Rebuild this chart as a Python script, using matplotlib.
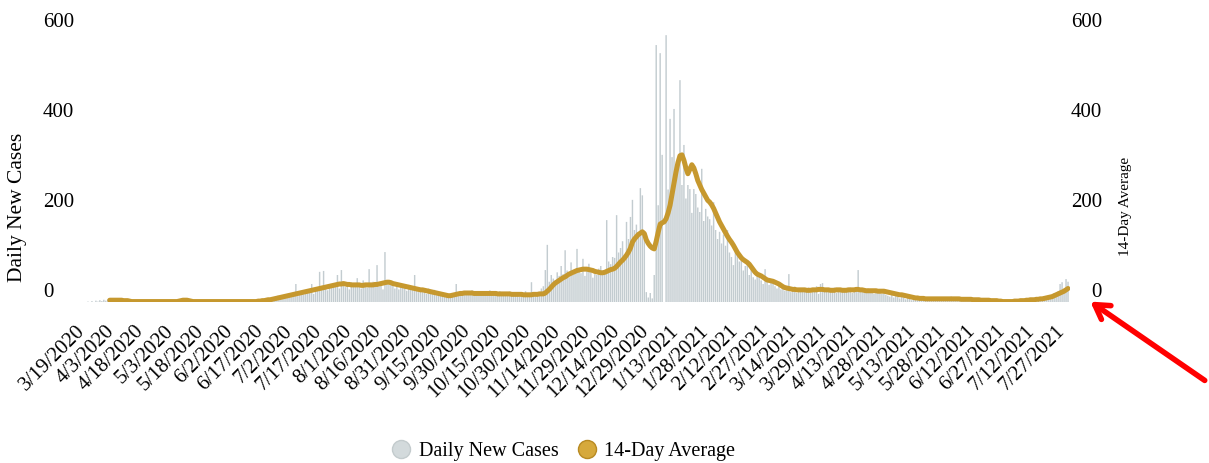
import numpy as np
import matplotlib
matplotlib.use('Agg')
import matplotlib.pyplot as plt
from matplotlib.lines import Line2D
from matplotlib.transforms import ScaledTranslation

plt.rcParams['font.family'] = ['Liberation Serif', 'DejaVu Serif']

# ---------------- data ----------------
tick_labels = ['3/19/2020', '4/3/2020', '4/18/2020', '5/3/2020', '5/18/2020', '6/2/2020',
               '6/17/2020', '7/2/2020', '7/17/2020', '8/1/2020', '8/16/2020', '8/31/2020',
               '9/15/2020', '9/30/2020', '10/15/2020', '10/30/2020', '11/14/2020', '11/29/2020',
               '12/14/2020', '12/29/2020', '1/13/2021', '1/28/2021', '2/12/2021', '2/27/2021',
               '3/14/2021', '3/29/2021', '4/13/2021', '4/28/2021', '5/13/2021', '5/28/2021',
               '6/12/2021', '6/27/2021', '7/12/2021', '7/27/2021']
tick_step_days = 15
y_ticks = [0, 200, 400, 600]

daily_cases = [
    1, 0, 2, 0, 3, 1, 4, 2, 5, 3,
    6, 4, 2, 5, 3, 4, 6, 2, 3, 5,
    2, 1, 0, 2, 1, 0, 1, 2, 0, 1,
    0, 1, 2, 0, 1, 0, 0, 1, 2, 0,
    1, 0, 2, 1, 3, 5, 4, 6, 3, 8,
    2, 1, 0, 1, 2, 0, 1, 0, 1, 2,
    0, 1, 0, 2, 1, 0, 1, 0, 0, 1,
    2, 0, 1, 0, 1, 2, 0, 1, 0, 3,
    1, 2, 0, 4, 2, 3, 5, 6, 3, 8,
    9, 4, 7, 11, 6, 10, 14, 9, 12, 8,
    15, 18, 11, 16, 20, 40, 13, 19, 22, 17,
    24, 21, 26, 40, 18, 28, 25, 67, 30, 69,
    34, 26, 38, 31, 42, 36, 60, 30, 71, 45,
    33, 40, 28, 44, 38, 35, 53, 42, 30, 48,
    37, 32, 73, 40, 45, 36, 82, 34, 41, 28,
    111, 48, 39, 42, 36, 30, 44, 28, 35, 40,
    32, 25, 38, 29, 30, 60, 26, 22, 30, 28,
    24, 18, 30, 26, 20, 27, 15, 22, 19, 16,
    14, 20, 12, 10, 16, 18, 40, 13, 22, 17,
    20, 24, 16, 18, 26, 22, 15, 19, 21, 17,
    23, 18, 20, 26, 16, 14, 22, 19, 24, 17,
    20, 15, 18, 23, 19, 14, 22, 17, 12, 20,
    18, 24, 15, 19, 44, 16, 12, 20, 22, 30,
    35, 71, 127, 45, 60, 52, 48, 66, 58, 80,
    62, 115, 70, 55, 88, 60, 68, 118, 72, 64,
    96, 58, 70, 85, 66, 54, 62, 60, 74, 80,
    68, 70, 182, 90, 84, 100, 98, 193, 110, 120,
    135, 105, 178, 140, 189, 227, 160, 172, 150, 253,
    237, 150, 22, 10, 20, 8, 60, 571, 215, 553,
    327, 0, 593, 250, 407, 322, 429, 280, 300, 493,
    260, 349, 230, 260, 251, 198, 251, 240, 210, 200,
    296, 180, 207, 190, 184, 170, 222, 160, 140, 156,
    130, 150, 125, 160, 110, 100, 82, 120, 111, 90,
    95, 70, 80, 89, 60, 75, 55, 50, 65, 58,
    48, 40, 73, 45, 38, 50, 42, 35, 30, 40,
    28, 36, 25, 30, 62, 22, 28, 34, 20, 26,
    30, 24, 28, 22, 32, 20, 26, 30, 35, 18,
    40, 42, 25, 28, 30, 22, 26, 32, 20, 28,
    24, 30, 26, 22, 28, 32, 20, 25, 30, 71,
    26, 24, 28, 20, 30, 22, 26, 18, 24, 20,
    22, 18, 20, 16, 14, 12, 18, 10, 14, 12,
    8, 12, 10, 6, 15, 8, 4, 10, 6, 5,
    8, 5, 10, 4, 6, 9, 3, 7, 5, 8,
    6, 4, 10, 3, 7, 5, 12, 4, 6, 8,
    5, 3, 8, 6, 4, 7, 3, 9, 5, 4,
    2, 6, 3, 5, 1, 4, 2, 3, 5, 0,
    1, 3, 0, 2, 1, 0, 2, 1, 0, 3,
    2, 4, 3, 1, 6, 5, 8, 3, 6, 4,
    7, 10, 6, 12, 8, 14, 11, 16, 20, 18,
    24, 40, 44, 30, 51, 45,
]

avg_14 = [None] * 11 + [
    4, 4, 4, 4, 4, 4, 4, 3, 3, 3,
    2, 1, 1, 1, 1, 1, 1, 1, 1, 1, 1, 1, 1, 1, 1, 1, 1, 1, 1, 1, 1, 1, 1, 1, 1, 2,
    3, 4, 4, 4, 3, 2,
    1, 1, 1, 1, 1, 1, 1, 1, 1, 1, 1, 1, 1, 1, 1, 1, 1, 1, 1, 1,
    1, 1, 1, 1, 1, 1, 1, 1, 1, 1, 1, 1, 1, 2,
    2, 3, 3, 4, 5, 5, 6, 7, 8, 9, 10, 11, 12, 13,
    14, 15, 16, 17, 18, 19, 20, 21, 22, 23, 24, 25, 26, 27, 28, 29, 30, 31, 32, 33,
    34, 35, 36, 37, 38, 39, 40, 40, 41, 40, 39, 39, 38, 38, 38,
    38, 38, 37, 37, 38, 38, 38, 38, 38, 39, 39, 40, 41, 42, 43,
    44, 44, 43, 41, 40, 39, 38, 37, 36, 35,
    34, 33, 32, 31, 30, 29, 28, 27, 27, 26, 25, 24, 23, 22, 21, 20, 19, 18, 17, 16,
    15, 14, 14, 15, 16, 17, 18, 19, 19, 20, 20, 20, 20, 20, 19, 19, 19, 19, 19, 19,
    19, 19, 19, 19, 19, 19, 18, 18, 18, 18, 18, 18, 18, 17, 17, 17, 17, 17, 17, 16,
    16, 16, 16, 16, 17, 17, 17, 18, 18,
    18, 20, 24, 28, 33, 38, 42, 45, 48, 51, 54, 56, 59, 62, 64, 66, 68, 70, 71, 72, 73,
    73, 73, 72, 71, 70, 68, 67, 66, 65, 65, 66, 68, 70, 72, 73,
    75, 79, 84, 89, 93, 98, 104, 111, 120, 133, 140, 145, 150, 153, 156, 152,
    138, 130, 124, 120, 118, 135, 155, 173, 176,
    178, 185, 198, 215, 240, 265, 289, 310, 325,
    327, 315, 298, 285, 295, 305, 298, 285, 270, 260, 250,
    242, 234, 226, 222, 216, 208, 198, 188, 178, 170, 162, 154, 146, 139, 133, 126, 118, 110, 104, 98,
    94, 91, 88, 84, 78, 72, 66, 62, 60, 58, 55, 52, 49, 48, 47,
    46, 44, 42, 40, 37, 34, 32, 31, 30, 29, 28, 28, 27, 27, 27,
    27, 27, 26, 26, 26, 27, 27, 27, 28, 28, 28, 27, 27, 27, 26, 26, 26, 27, 27, 27,
    26, 26, 26, 27, 27, 27, 27, 28, 28, 27, 27, 26, 25, 25, 25, 25, 25, 25, 24, 24,
    24, 24, 23, 22, 21, 20, 19, 18, 17, 16, 16, 15, 14, 13, 12, 11, 10, 9, 9, 8,
    8, 8, 7, 7, 7, 7, 7, 7, 7, 7, 7, 7, 7, 7, 7, 7, 7, 7, 7, 7,
    6, 6, 6, 6, 6, 6, 5, 5, 5, 5, 4, 4, 4, 4, 4, 3, 3, 3, 3, 2,
    2, 1, 1, 1, 1, 1, 1, 2, 2, 2, 3, 3, 3, 4, 4,
    5, 5, 5, 6, 6, 7, 7, 8, 9, 10, 11, 12, 14, 16, 18, 20, 22, 24, 27, 30,
]

# ---------------- figure ----------------
W, H, DPI = 1209, 463, 100
fig = plt.figure(figsize=(W / DPI, H / DPI), dpi=DPI)
ax = fig.add_axes([86 / W, (H - 302) / H, 984 / W, 279 / H])

days = np.arange(len(daily_cases))
ax.bar(days, daily_cases, width=0.72, color='#c3ccd0', edgecolor='none', zorder=1, snap=False)

ax2 = ax.twinx()
avg = np.array([np.nan if v is None else v for v in avg_14], dtype=float)
ax2.plot(np.arange(len(avg)), avg, color='#c6982e', lw=3.6,
         solid_capstyle='round', solid_joinstyle='round', zorder=3)

for a in (ax, ax2):
    a.set_xlim(-1, 496)
    a.set_ylim(0, 620)
    a.set_yticks(y_ticks)
    for s in a.spines.values():
        s.set_visible(False)
    a.patch.set_visible(False)

ax.set_xticks(np.arange(len(tick_labels)) * tick_step_days)
ax.set_xticklabels(tick_labels)
ax.tick_params(axis='x', length=0, pad=19, labelsize=15)
plt.setp(ax.get_xticklabels(), rotation=45, ha='right', va='center', rotation_mode='anchor')

ax.tick_params(axis='y', length=0, pad=31, labelsize=15)
plt.setp(ax.get_yticklabels(), ha='left')
ax2.tick_params(axis='y', length=0, pad=23, labelsize=15)
plt.setp(ax2.get_yticklabels(), ha='right')

off = ScaledTranslation(0, 12 / DPI, fig.dpi_scale_trans)
for lab in list(ax.get_yticklabels()) + list(ax2.get_yticklabels()):
    lab.set_transform(lab.get_transform() + off)
xoff = ScaledTranslation(-6 / DPI, 0, fig.dpi_scale_trans)
for lab in ax.get_xticklabels():
    lab.set_transform(lab.get_transform() + xoff)

fig.text(18 / W, 1 - 207 / H, 'Daily New Cases', rotation=90, ha='center', va='center', fontsize=15.5)
fig.text(1126 / W, 1 - 206 / H, '14-Day Average', rotation=90, ha='center', va='center', fontsize=11)

handles = [
    Line2D([], [], ls='none', marker='o', ms=13, mfc='#d3dadc', mec='#c3cbcd', mew=1),
    Line2D([], [], ls='none', marker='o', ms=13, mfc='#d6a93c', mec='#b88a22', mew=1),
]
fig.legend(handles, ['Daily New Cases', '14-Day Average'], loc='center',
           bbox_to_anchor=(563 / W, 12 / H), ncol=2, frameon=False, fontsize=14.5,
           handletextpad=0.35, columnspacing=0.9, handlelength=1.0)

ax.annotate('', xy=(1088, H - 300), xycoords='figure pixels',
            xytext=(1207, H - 382), textcoords='figure pixels',
            arrowprops=dict(arrowstyle='->,head_length=1.0,head_width=0.6',
                            color='#ff0000', lw=4),
            annotation_clip=False)

fig.savefig('out.png', dpi=DPI)
